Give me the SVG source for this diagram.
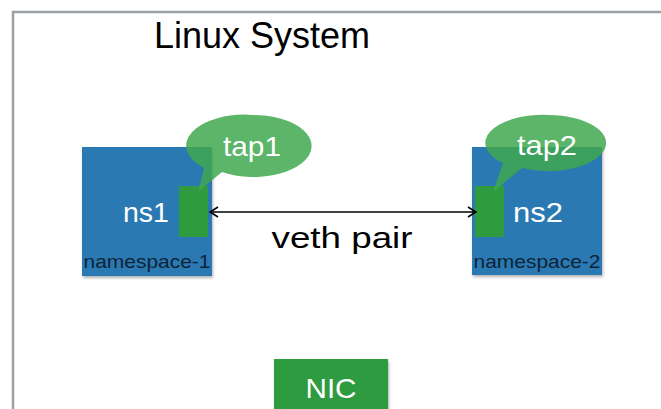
<svg xmlns="http://www.w3.org/2000/svg" width="661" height="409" viewBox="0 0 661 409">
<defs>
<filter id="sh" x="-10%" y="-10%" width="130%" height="130%">
<feDropShadow dx="1" dy="2" stdDeviation="1.5" flood-color="#000" flood-opacity="0.3"/>
</filter>
<marker id="ah" viewBox="0 0 10 12" refX="9" refY="6" markerWidth="10" markerHeight="12" markerUnits="userSpaceOnUse" orient="auto-start-reverse">
<path d="M1,1 L9,6 L1,11" fill="none" stroke="#000" stroke-width="1.6"/>
</marker>
<style>
.ns{fill:#2b79b3;filter:url(#sh)}
.tap{fill:#2e9b3f}
.bub{fill:#3fa84f;fill-opacity:0.85}
.w{font-family:"Liberation Sans",Arial,sans-serif;fill:#fff;text-anchor:middle}
.k{font-family:"Liberation Sans",Arial,sans-serif;fill:#000;text-anchor:middle}
.lbl{font-family:"Liberation Sans",Arial,sans-serif;fill:#0d2436;font-size:19px;text-anchor:middle}
</style>
</defs>
<rect width="661" height="409" fill="#fff"/>
<path d="M13,409 V12 H661" fill="none" stroke="#9ba0a5" stroke-width="2.5"/>
<text class="k" x="262" y="48" font-size="36">Linux System</text>
<g id="ns1">
<rect class="ns" x="82" y="147" width="130" height="129"/>
<text class="w" x="146" y="222" font-size="28" textLength="46" lengthAdjust="spacingAndGlyphs">ns1</text>
<text class="lbl" x="147" y="268" textLength="127" lengthAdjust="spacingAndGlyphs">namespace-1</text>
<rect class="tap" x="179" y="186" width="29" height="51"/>
<g id="tap1">
<path class="bub" d="M253,115 A58,31 0 1,1 222,172 L198,192 L204,168 A58,31 0 0,1 253,115 Z"/>
<text class="w" x="252" y="156" font-size="28" textLength="58" lengthAdjust="spacingAndGlyphs">tap1</text>
</g>
</g>
<g id="ns2">
<rect class="ns" x="472" y="147" width="130" height="128"/>
<text class="w" x="538" y="222" font-size="28" textLength="50" lengthAdjust="spacingAndGlyphs">ns2</text>
<text class="lbl" x="537" y="268" textLength="127" lengthAdjust="spacingAndGlyphs">namespace-2</text>
<rect class="tap" x="475" y="186" width="29" height="51"/>
<g id="tap2">
<path class="bub" d="M549,115 A58,28 0 1,1 522,168 L493,192 L503,163 A58,28 0 0,1 549,115 Z"/>
<text class="w" x="547" y="155" font-size="28" textLength="60" lengthAdjust="spacingAndGlyphs">tap2</text>
</g>
</g>
<g id="nic">
<rect x="274" y="359" width="114" height="55" fill="#2e9b3f" filter="url(#sh)"/>
<text class="w" x="331" y="398" font-size="28" textLength="51" lengthAdjust="spacingAndGlyphs">NIC</text>
</g>
<g id="connectors">
<line x1="210" y1="212" x2="476" y2="212" stroke="#000" stroke-width="1.6" marker-start="url(#ah)" marker-end="url(#ah)"/>
<text class="k" x="342" y="248" font-size="29" textLength="141" lengthAdjust="spacingAndGlyphs">veth pair</text>
</g>
</svg>
